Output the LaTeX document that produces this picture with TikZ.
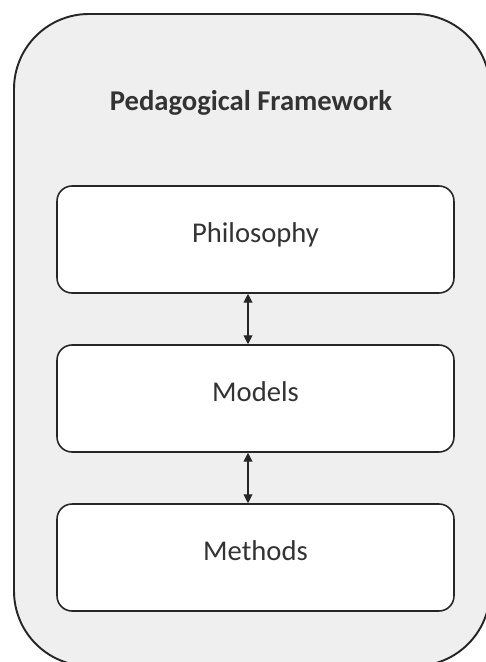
\documentclass[tikz,border=0pt]{standalone}
\usepackage{fontspec}
\setmainfont{Carlito}
\usepackage{tikz}
\usetikzlibrary{positioning,arrows.meta}
\definecolor{panelgray}{HTML}{EFEFEF}
\definecolor{linegray}{HTML}{262626}
\definecolor{textgray}{HTML}{333333}

\begin{document}
\begin{tikzpicture}[x=0.02cm,y=-0.02cm,
    level/.style={draw=linegray,line width=0.9pt,fill=white,rounded corners=0.3cm,
        minimum width=7.94cm,minimum height=2.14cm,text=textgray,
        text height=0.7em,text depth=0.34em,font=\fontsize{16.3}{19}\selectfont},
    pair/.style={{Triangle[width=5pt,length=5pt]}-{Triangle[width=5pt,length=5pt]},linegray,line width=0.6pt}]
    \useasboundingbox (0,0) rectangle (486,662);
    % outer frame, cut by the page on the right and below
    \draw[linegray,line width=1.1pt,fill=panelgray,rounded corners=1.5cm] (14,14) rectangle (490,666);

    \node[font=\bfseries\fontsize{16.3}{19}\selectfont,text=textgray] (title) at (251,103) {Pedagogical Framework};

    \node[level] (phil) at (255.5,239.5) {Philosophy};
    \node[level] (mod)  at (255.5,398.5) {Models};
    \node[level] (meth) at (255.5,557.5) {Methods};

    \draw[pair] ([xshift=-0.15cm]phil.south) -- ([xshift=-0.15cm]mod.north);
    \draw[pair] ([xshift=-0.15cm]mod.south) -- ([xshift=-0.15cm]meth.north);
\end{tikzpicture}
\end{document}
